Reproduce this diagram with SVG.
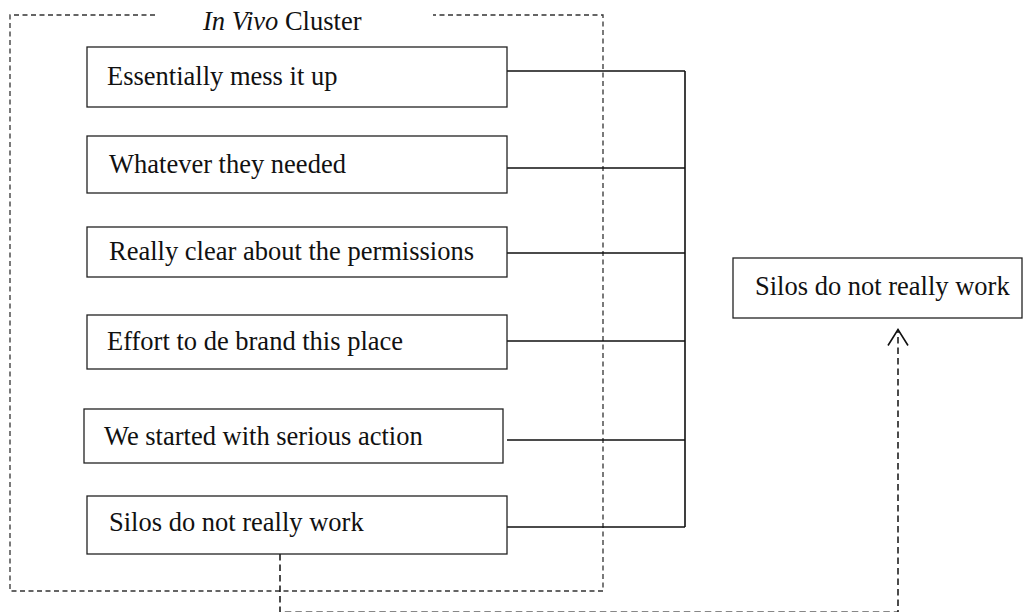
<svg xmlns="http://www.w3.org/2000/svg" width="1028" height="612" viewBox="0 0 1028 612">
  <style>
    .box { fill: #ffffff; stroke: #222; stroke-width: 1.3; }
    .lbl { font-family: "Liberation Serif", "Times New Roman", serif; font-size: 26.5px; fill: #111; }
    .link { fill: none; stroke: #111; stroke-width: 1.6; }
    .cluster { fill: none; stroke: #333; stroke-width: 1.3; stroke-dasharray: 5 3.5; }
    .dash { fill: none; stroke: #111; stroke-width: 1.5; stroke-dasharray: 6.5 4; }
  </style>
  <defs>
    <!-- open "V" head, drawn pointing along +x so orient=auto turns it with the line -->
    <marker id="openArrow" markerWidth="20" markerHeight="24" refX="17" refY="11" orient="auto" markerUnits="userSpaceOnUse" viewBox="0 0 20 24">
      <path d="M1,1 L17,11 L1,21" fill="none" stroke="#111" stroke-width="1.6"/>
    </marker>
  </defs>
  <rect width="1028" height="612" fill="#ffffff"/>

  <!-- cluster frame with a gap in the top edge for its title -->
  <g id="cluster">
    <path class="cluster" d="M155,15 H10 V591 H603 V15 H433"/>
    <text class="lbl" x="203" y="30"><tspan font-style="italic">In Vivo</tspan> Cluster</text>
  </g>

  <!-- connectors -->
  <g id="connectors">
    <path class="link" d="M507,71 H685 M507,168 H685 M507,253 H685 M507,341 H685 M507,440 H685 M507,527 H685 M685,71 V527"/>
    <path class="dash" d="M280,554 V612.2 H898 V329.5" marker-end="url(#openArrow)"/>
  </g>

  <g id="n1">
    <rect class="box" x="87" y="47" width="420" height="60"/>
    <text class="lbl" x="107" y="85">Essentially mess it up</text>
  </g>
  <g id="n2">
    <rect class="box" x="87" y="136" width="420" height="57"/>
    <text class="lbl" x="109" y="173">Whatever they needed</text>
  </g>
  <g id="n3">
    <rect class="box" x="87" y="227" width="420" height="50"/>
    <text class="lbl" x="109" y="260">Really clear about the permissions</text>
  </g>
  <g id="n4">
    <rect class="box" x="87" y="315" width="420" height="54"/>
    <text class="lbl" x="107" y="350">Effort to de brand this place</text>
  </g>
  <g id="n5">
    <rect class="box" x="84" y="409" width="419" height="54"/>
    <text class="lbl" x="104" y="445">We started with serious action</text>
  </g>
  <g id="n6">
    <rect class="box" x="87" y="496" width="420" height="58"/>
    <text class="lbl" x="109" y="531">Silos do not really work</text>
  </g>
  <g id="n7">
    <rect class="box" x="733" y="258" width="289" height="60"/>
    <text class="lbl" x="755" y="295">Silos do not really work</text>
  </g>
</svg>
